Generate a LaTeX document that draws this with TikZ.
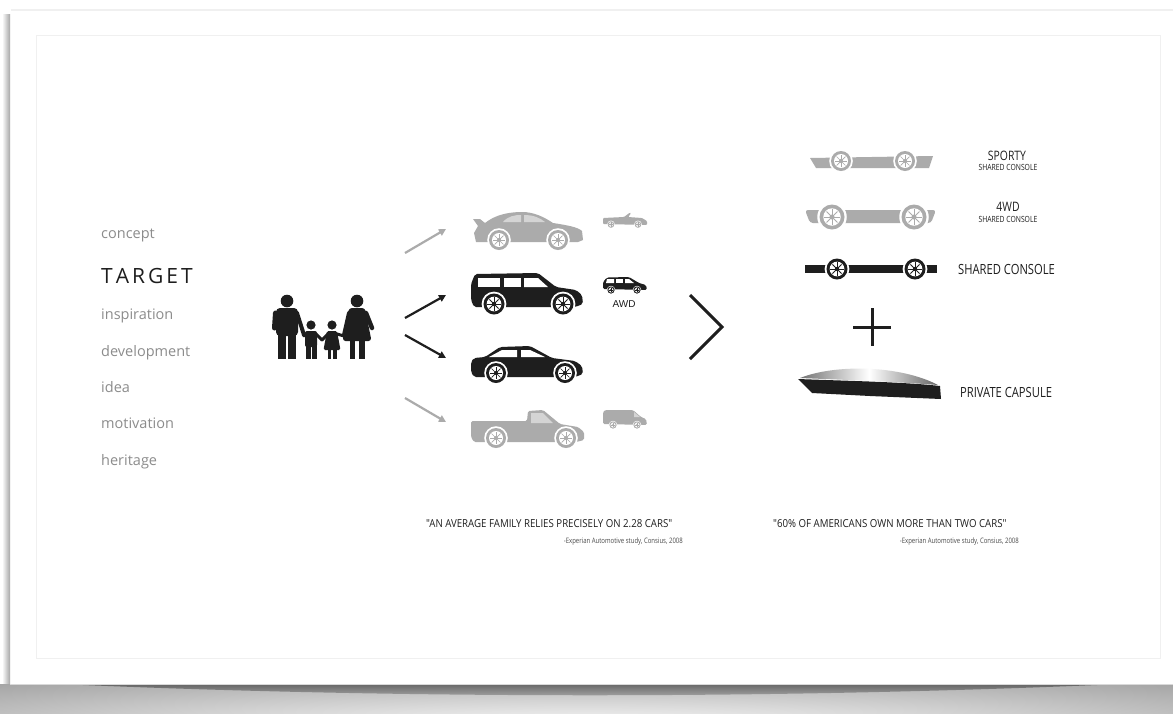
\documentclass[tikz,border=0pt]{standalone}
\usepackage{fontspec}
\setmainfont{Open Sans}
\newfontfamily\narrow[FakeStretch=0.8]{Open Sans}
\newfontfamily\quotefont[FakeStretch=0.88]{Open Sans}
\newfontfamily\arial{Liberation Sans}
\usetikzlibrary{arrows.meta}

\definecolor{ink}{HTML}{1E1E1E}
\definecolor{pale}{HTML}{ABABAB}
\definecolor{paleglass}{HTML}{D4D4D4}
\definecolor{listgray}{HTML}{8C8C8C}
\definecolor{band}{HTML}{A4A4A4}

% wheel: x, y, radius, tyre colour
\newcommand\drawwheel[4]{%
  \fill[white] (#1,#2) circle[radius=#3*1.18];
  \fill[#4] (#1,#2) circle[radius=#3];
  \fill[white] (#1,#2) circle[radius=#3*0.7];
  \foreach \ang in {0,45,...,315}
    \draw[#4, line width=#3*0.07pt] (#1,#2) -- ++(\ang:#3*0.62);
  \fill[#4] (#1,#2) circle[radius=#3*0.2];
}

\tikzset{
  listitem/.style={anchor=base west, inner sep=0, text=listgray,
    font=\fontsize{14.5}{14.5}\selectfont},
  quote/.style={anchor=base west, inner sep=0, text=ink,
    font=\quotefont\fontsize{11}{11}\selectfont},
  source/.style={anchor=base east, inner sep=0, text=ink!80,
    font=\narrow\fontsize{7.5}{7.5}\selectfont},
  biglabel/.style={inner sep=0, text=ink, font=\narrow\fontsize{14}{14}\selectfont},
  toplabel/.style={inner sep=0, text=ink, font=\narrow\fontsize{13}{13}\selectfont},
  sublabel/.style={inner sep=0, text=ink, font=\narrow\fontsize{8.5}{8.5}\selectfont},
  flow/.style={line width=2.2pt, -{Triangle[length=7pt,width=7pt]}},
}

\begin{document}
\begin{tikzpicture}[x=1pt, y=-1pt]
\useasboundingbox (0,0) rectangle (1173,713);

% sheet, its shadow and inner frame
\fill[white] (0,0) rectangle (1173,713);
\shade[left color=white, right color=black!35] (2,14) rectangle (10,684);
\draw[black!6, line width=2pt] (11,10) -- (1173,10);
\draw[black!6, line width=0.8pt] (36,35) rectangle (1160,658);
\begin{scope}
  \clip (0,684) rectangle (1173,713);
  \fill[band] (0,684) rectangle (1173,713);
  \shade[inner color=white, outer color=band] (586,730) ellipse[x radius=900, y radius=62];
  \shade[top color=black!70, bottom color=band, opacity=0.75]
    (60,684) .. controls (400,699) and (780,699) .. (1120,684) -- cycle;
\end{scope}
\draw[black!15, line width=0.8pt] (10,684) -- (1173,684);

% word list
\node[listitem] (concept) at (101,238) {concept};
\node[anchor=base west, inner sep=0, text=ink, font=\fontsize{21}{21}\selectfont]
  (target) at (101,283) {T\kern3pt A\kern3pt R\kern3pt G\kern3pt E\kern3pt T};
\node[listitem] (inspiration) at (101,319) {inspiration};
\node[listitem] (development) at (101,356) {development};
\node[listitem] (idea) at (101,392) {idea};
\node[listitem] (motivation) at (101,428) {motivation};
\node[listitem] (heritage) at (101,465) {heritage};

% family
\begin{scope}[ink]
  % father
  \fill (287,301) circle[radius=6.3];
  \fill[rounded corners=4] (276,308) rectangle (298,336);
  \fill (278,333) rectangle (286.3,359);
  \fill (287.7,333) rectangle (296,359);
  \draw[line width=5pt, line cap=round] (275.5,313) -- (274.5,328);
  \draw[line width=4pt, line cap=round] (297,313) -- (304,335);
  % boy
  \fill (311,325) circle[radius=4.6];
  \fill[rounded corners=2] (305,331) rectangle (317,347);
  \fill (305.5,345) rectangle (310.5,359);
  \fill (311.5,345) rectangle (316.5,359);
  \draw[line width=3pt, line cap=round] (306,334) -- (304,336);
  \draw[line width=3pt, line cap=round] (316,334) -- (322,340);
  % girl
  \fill (332,325) circle[radius=4.6];
  \fill[rounded corners=1.5] (327,331) -- (337,331) -- (340.5,350) -- (323.5,350) -- cycle;
  \fill (327.5,349) rectangle (331,359);
  \fill (333,349) rectangle (336.5,359);
  \draw[line width=3pt, line cap=round] (328,334) -- (322,340);
  \draw[line width=3pt, line cap=round] (337,334) -- (344,336);
  % mother
  \fill (357,301) circle[radius=6.3];
  \fill[rounded corners=3] (349,308) -- (365,308) -- (371.5,341) -- (342.5,341) -- cycle;
  \fill (349.5,339) rectangle (355,359);
  \fill (359,339) rectangle (364.5,359);
  \draw[line width=4pt, line cap=round] (349,313) -- (344,335);
  \draw[line width=4.5pt, line cap=round] (366,313) -- (372,328);
\end{scope}

% arrows to the car choices
\coordinate (a1s) at (405,253); \coordinate (a1e) at (446,229);
\coordinate (a2s) at (405,318); \coordinate (a2e) at (446,295);
\coordinate (a3s) at (405,335); \coordinate (a3e) at (446,358);
\coordinate (a4s) at (405,398); \coordinate (a4e) at (446,422);
\draw[flow, pale] (a1s) -- (a1e);
\draw[flow, ink] (a2s) -- (a2e);
\draw[flow, ink] (a3s) -- (a3e);
\draw[flow, pale] (a4s) -- (a4e);

% sports coupe
\fill[pale] (473,219) -- (480,219) -- (485,223) .. controls (495,215) and (508,212) .. (522,212)
  .. controls (534,212) and (544,217) .. (553,223) .. controls (566,225) and (578,227) .. (582,231)
  -- (583,240) -- (578,242) -- (476,242) -- (474,233) -- (478,226) -- cycle;
\fill[paleglass] (503,222) .. controls (508,216) and (515,215) .. (521,215) -- (521,222) -- cycle;
\fill[paleglass] (524,215) .. controls (534,215) and (540,218) .. (545,222) -- (524,222) -- cycle;
\drawwheel{499}{240}{10}{pale}
\drawwheel{558}{240}{10}{pale}

% SUV
\fill[ink, rounded corners=2] (471,300) -- (471,284) -- (475,274) -- (538,273) -- (556,287)
  -- (576,290) -- (582,295) -- (583,304) -- (575,307) -- (474,307) -- cycle;
\fill[white] (478,278) rectangle (500,287);
\fill[white] (504,278) rectangle (521,287);
\fill[white] (524,278) -- (538,278) -- (548,287) -- (524,287) -- cycle;
\drawwheel{494}{304}{10.5}{ink}
\drawwheel{563}{304}{10.5}{ink}

% sedan
\fill[ink, rounded corners=2] (471,372) -- (471,362) -- (474,358) -- (485,357) -- (500,347)
  -- (530,346) -- (552,358) -- (575,361) -- (582,366) -- (583,374) -- (575,377) -- (474,377) -- cycle;
\fill[white] (489,357) -- (502,350) -- (517,350) -- (517,357) -- cycle;
\fill[white] (521,350) -- (530,350) -- (545,357) -- (521,357) -- cycle;
\drawwheel{496}{373}{10}{ink}
\drawwheel{565}{373}{10}{ink}

% pickup
\fill[pale, rounded corners=1.5] (471,437) -- (471,421) -- (527,421) -- (528,411) -- (543,410)
  -- (560,424) -- (578,427) -- (584,432) -- (584,440) -- (576,442) -- (474,442) -- cycle;
\fill[paleglass] (531,413) -- (543,413) -- (553,423) -- (531,423) -- cycle;
\drawwheel{496}{438}{10}{pale}
\drawwheel{566}{438}{10}{pale}

% small convertible
\fill[pale, rounded corners=1] (603,224) -- (603,218) -- (624,217) -- (630,212.5) -- (631,213.5)
  -- (628,217) -- (642,218) -- (647,221) -- (647,225) -- cycle;
\drawwheel{611}{224.5}{3.3}{pale}
\drawwheel{638}{224.5}{3.3}{pale}

% small minivan
\fill[ink, rounded corners=1.5] (603,289) -- (603,282) -- (607,277.5) -- (629,277) -- (639,283)
  -- (646,285) -- (647,290) -- cycle;
\fill[white] (607,279) -- (614,279) -- (614,283) -- (606,283) -- cycle;
\fill[white] (616,279) rectangle (623,283);
\fill[white] (625,279) -- (629,279) -- (634,283) -- (625,283) -- cycle;
\drawwheel{611}{290}{3.6}{ink}
\drawwheel{637}{290}{3.6}{ink}
\node[inner sep=0, text=ink, font=\arial\fontsize{10}{10}\selectfont] (awd) at (624,304) {AWD};

% small van
\fill[pale, rounded corners=1.5] (603,424) -- (603,412) -- (605,410) -- (633,410) -- (641,417)
  -- (646,419) -- (647,425) -- cycle;
\fill[paleglass] (634,412) -- (640,417) -- (634,417) -- cycle;
\drawwheel{613}{425}{3.6}{pale}
\drawwheel{637}{425}{3.6}{pale}

% chevron
\draw[ink, line width=3pt] (690,295) -- (722,327) -- (690,359);

% chassis: sporty
\fill[pale] (810,158) -- (933,156) -- (929,168) -- (816,168) -- cycle;
\drawwheel{841}{161}{10}{pale}
\drawwheel{905}{161}{10}{pale}
% chassis: 4WD
\fill[pale, rounded corners=3] (805,210) -- (936,210) -- (931,223) -- (810,223) -- cycle;
\drawwheel{832}{217}{12.5}{pale}
\drawwheel{914}{217}{12.5}{pale}
% chassis: shared console
\fill[ink] (805,265) rectangle (937,273);
\drawwheel{837}{269}{10.5}{ink}
\drawwheel{915}{269}{10.5}{ink}

% plus
\draw[ink, line width=3pt] (853,327) -- (891,327);
\draw[ink, line width=3pt] (872,308) -- (872,346);

% private capsule
\fill[ink] (798,379) .. controls (850,381) and (905,382) .. (940,386) -- (941,399)
  -- (870,396) -- (812,393) -- (803,384) -- cycle;
\shade[left color=black!55, right color=black!60, middle color=white]
  (800,378) .. controls (835,364) and (900,365) .. (938,385)
  .. controls (900,382) and (850,380) .. (800,378) -- cycle;

% chassis labels
\node[toplabel] (sporty) at (1007,156) {SPORTY};
\node[sublabel] (sportysub) at (1008,167) {SHARED CONSOLE};
\node[toplabel] (fourwd) at (1008,207) {4WD};
\node[sublabel] (fourwdsub) at (1008,219) {SHARED CONSOLE};
\node[biglabel, anchor=west] (console) at (958,269) {SHARED CONSOLE};
\node[biglabel, anchor=west] (capsule) at (960,392) {PRIVATE CAPSULE};

% quotes
\node[quote] (quoteone) at (426,527) {"AN AVERAGE FAMILY RELIES PRECISELY ON 2.28 CARS"};
\node[source] (sourceone) at (683,543) {-Experian Automotive study, Consius, 2008};
\node[quote] (quotetwo) at (773,527) {"60\% OF AMERICANS OWN MORE THAN TWO CARS"};
\node[source] (sourcetwo) at (1019,543) {-Experian Automotive study, Consius, 2008};
\end{tikzpicture}
\end{document}
